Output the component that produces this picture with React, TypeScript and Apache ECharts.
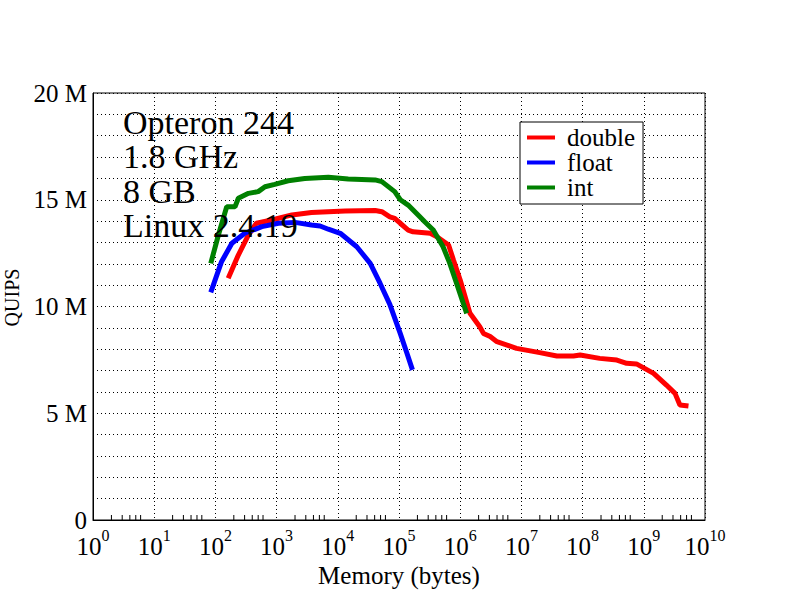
import React, { useEffect, useRef } from "react";
import * as echarts from "echarts";

// Memory sizes (bytes) and QUIPS values (millions)
const doubleBytes = [162, 237, 347, 468, 832, 1778, 3715, 13183, 40738, 52481, 70795, 85114, 104713, 141254, 169824, 323594, 416869, 645654, 776247, 1000000, 1445440, 2089296, 2398833, 3090295, 3981072, 8317638, 19952623, 38018940, 70794578, 91201084, 190546072, 363078055, 524807460, 758577575, 1445439771, 2344228815, 3235936569, 3890451450, 5370317964];
const doubleQuips = [11.32, 12.41, 13.35, 13.9, 14.05, 14.29, 14.4, 14.47, 14.5, 14.44, 14.2, 14.13, 13.9, 13.58, 13.5, 13.43, 13.27, 12.88, 12.18, 11.24, 9.68, 9.05, 8.74, 8.59, 8.35, 8.04, 7.84, 7.68, 7.68, 7.73, 7.57, 7.49, 7.34, 7.31, 6.87, 6.32, 5.93, 5.39, 5.34];

const floatBytes = [84, 126, 186, 302, 575, 1072, 1995, 3715, 5129, 7000, 10965, 20417, 33884, 48978, 70795, 104713, 134896, 165959];
const floatQuips = [10.66, 12.1, 12.96, 13.43, 13.74, 13.9, 13.94, 13.82, 13.77, 13.62, 13.43, 12.8, 12.02, 11.09, 10.1, 8.74, 7.81, 7.03];

const intBytes = [84, 112, 153, 209, 237, 347, 501, 646, 933, 1549, 2884, 7000, 14800, 40700, 52500, 85100, 105000, 141000, 219000, 263000, 363000, 525000, 676000, 871000, 1122000, 1276000];
const intQuips = [12.02, 13.35, 14.67, 14.67, 15.07, 15.3, 15.38, 15.61, 15.72, 15.89, 16.0, 16.05, 15.97, 15.93, 15.85, 15.38, 15.0, 14.75, 14.2, 13.97, 13.58, 12.8, 12.02, 11.09, 10.15, 9.68];

const seriesNames = ["double", "float", "int"];
const seriesColors = ["#ff0000", "#0000ff", "#008000"];
const annotationLines = ["Opteron 244", "1.8 GHz", "8 GB", "Linux 2.4.19"];
const xAxisTitle = "Memory (bytes)";
const yAxisTitle = "QUIPS";
const minorTickDecades = [0, 1, 2, 3, 4, 5, 6, 7, 8, 9];
const minorTickMultipliers = [2, 3, 4, 5, 6];

const FONT = "'Liberation Serif', 'Times New Roman', serif";

const zip = (xs: number[], ys: number[]) => xs.map((x, i) => [x, ys[i]]);

export default function App() {
  const ref = useRef<HTMLDivElement>(null);
  useEffect(() => {
    if (!ref.current) return;
    document.body.style.margin = "0";
    const chart = echarts.init(ref.current, undefined, { renderer: "svg" });
    const minorTicks: number[][] = [];
    minorTickDecades.forEach((d) =>
      minorTickMultipliers.forEach((m) => minorTicks.push([m * Math.pow(10, d), 0]))
    );
    const lineData = [
      zip(doubleBytes, doubleQuips),
      zip(floatBytes, floatQuips),
      zip(intBytes, intQuips),
    ];
    chart.setOption({
      animation: false,
      backgroundColor: "#ffffff",
      grid: {
        left: 93,
        right: 87,
        top: 93,
        bottom: 92,
        containLabel: false,
        outerBoundsMode: "none",
        show: true,
        borderColor: "#000",
        borderWidth: 1,
        backgroundColor: "transparent",
      },
      xAxis: {
        type: "log",
        logBase: 10,
        min: 1,
        max: 1e10,
        interval: 1,
        name: xAxisTitle,
        nameLocation: "middle",
        nameGap: 42,
        nameTextStyle: { fontFamily: FONT, fontSize: 25, color: "#000" },
        axisLine: { show: true, lineStyle: { color: "#000", width: 1 } },
        axisTick: { show: false },
        splitLine: { show: true, lineStyle: { color: "#000", width: 1, type: [1, 3] } },
        axisLabel: {
          margin: 7,
          showMinLabel: true,
          showMaxLabel: true,
          hideOverlap: false,
          interval: 0,
          formatter: (v: number) => `{b|10}{s|${Math.round(Math.log10(v))}}`,
          rich: {
            b: { fontFamily: FONT, fontSize: 25, color: "#000", lineHeight: 38, verticalAlign: "middle" },
            s: { fontFamily: FONT, fontSize: 16, color: "#000", verticalAlign: "top" },
          },
        },
      },
      yAxis: {
        type: "value",
        min: 0,
        max: 20,
        interval: 1,
        name: yAxisTitle,
        nameLocation: "middle",
        nameGap: 71,
        nameTextStyle: { fontFamily: FONT, fontSize: 20, color: "#000", padding: [0, 0, 0, 18] },
        axisLine: { show: true, lineStyle: { color: "#000", width: 1 } },
        axisTick: { show: false },
        splitLine: { show: true, lineStyle: { color: "#000", width: 1, type: [1, 3] } },
        axisLabel: {
          margin: 6,
          fontFamily: FONT,
          fontSize: 25,
          color: "#000",
          interval: 0,
          formatter: (v: number) => (v === 0 ? "0" : v % 5 === 0 ? `${v} M` : ""),
        },
      },
      legend: {
        data: seriesNames,
        orient: "vertical",
        left: 520,
        top: 122,
        padding: [3, 8, 4, 7],
        itemGap: 0,
        itemWidth: 28,
        itemHeight: 4,
        icon: "rect",
        borderColor: "#000",
        borderWidth: 1,
        borderRadius: 0,
        backgroundColor: "#fff",
        textStyle: { fontFamily: FONT, fontSize: 25, color: "#000", padding: [0, 0, 0, 7] },
      },
      graphic: [
        {
          type: "text",
          left: 123,
          top: 105,
          z: 100,
          style: {
            text: annotationLines.join("\n"),
            fontFamily: FONT,
            fontSize: 34,
            lineHeight: 34.5,
            fill: "#000",
          },
        },
      ],
      series: [
        ...seriesNames.map((name, i) => ({
          name,
          type: "line",
          data: lineData[i],
          showSymbol: false,
          symbol: "none",
          color: seriesColors[i],
          lineStyle: { width: 5, color: seriesColors[i] },
          z: 3 + i,
        })),
        {
          name: "minorTicks",
          type: "custom",
          silent: true,
          data: minorTicks,
          renderItem: (params: any, api: any) => {
            const p = api.coord([api.value(0), api.value(1)]);
            return {
              type: "line",
              shape: { x1: p[0], y1: p[1], x2: p[0], y2: p[1] - 5 },
              style: { stroke: "#000", lineWidth: 1 },
            };
          },
        },
      ],
    });
    return () => chart.dispose();
  }, []);
  return <div ref={ref} style={{ width: 792, height: 612 }} />;
}
